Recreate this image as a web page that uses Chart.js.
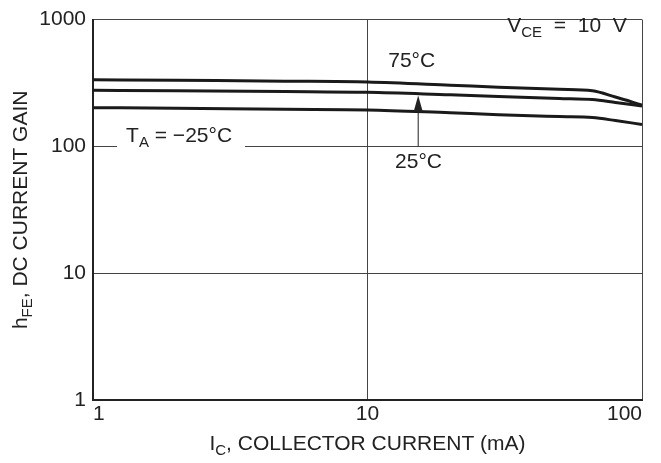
<!DOCTYPE html>
<html>
<head>
<meta charset="utf-8">
<script src="https://cdn.jsdelivr.net/npm/chart.js@4/dist/chart.umd.min.js"></script>
<style>
  html, body { margin: 0; padding: 0; background: #fff; }
  #wrap { width: 661px; height: 463px; }
</style>
</head>
<body>
<div id="wrap"><canvas id="gainChart" width="661" height="463"></canvas></div>
<script>
// collector current (mA) and DC current gain for each ambient temperature
const currentMA   = [1, 2, 5, 10, 20, 30, 50, 66, 80, 100];
const gain75      = [336, 332, 327, 322, 304, 293, 282, 275, 245, 212];
const gain25      = [277, 275, 271, 267, 255, 248, 239, 234, 222, 208];
const gainMinus25 = [202, 200, 196, 194, 184, 178, 172, 169, 160, 149];

const xTicks = [1, 10, 100];
const yTicks = [1, 10, 100, 1000];

const FONT = '"Liberation Sans", Arial, Helvetica, sans-serif';
const MAIN_FONT = '21px ' + FONT;
const SUB_FONT = '15px ' + FONT;
const INK = '#222';

function toPoints(ys) {
    return currentMA.map((x, i) => ({ x: x, y: ys[i] }));
}

// text with subscripts: parts = [[text, isSub], ...]
function drawRich(ctx, parts, x, y, align) {
    const widths = parts.map(p => {
        ctx.font = p[1] ? SUB_FONT : MAIN_FONT;
        return ctx.measureText(p[0]).width;
    });
    const total = widths.reduce((a, b) => a + b, 0);
    let cx = align === 'right' ? x - total : (align === 'center' ? x - total / 2 : x);
    parts.forEach((p, i) => {
        ctx.font = p[1] ? SUB_FONT : MAIN_FONT;
        ctx.fillText(p[0], cx, p[1] ? y + 5 : y);
        cx += widths[i];
    });
}

const labelsPlugin = {
    id: 'labels',
    afterDraw(chart) {
        const ctx = chart.ctx;
        const xs = chart.scales.x, ys = chart.scales.y;
        const area = chart.chartArea;
        ctx.save();
        ctx.textBaseline = 'alphabetic';
        ctx.textAlign = 'left';

        // white box behind the T_A label (breaks the 100 grid line)
        ctx.fillStyle = '#fff';
        ctx.fillRect(117, 122, 128, 28);
        ctx.fillStyle = INK;

        drawRich(ctx, [['T', false], ['A', true], [' = \u221225\u00b0C', false]],
            xs.getPixelForValue(1.32), ys.getPixelForValue(109), 'left');
        drawRich(ctx, [['75\u00b0C', false]],
            xs.getPixelForValue(11.9), ys.getPixelForValue(422), 'left');
        drawRich(ctx, [['25\u00b0C', false]],
            xs.getPixelForValue(12.6), ys.getPixelForValue(68), 'left');
        drawRich(ctx, [['V', false], ['CE', true], ['  =  10  V', false]],
            xs.getPixelForValue(88), ys.getPixelForValue(800), 'right');

        // arrow from the 100 line up to the 25°C curve
        const ax = xs.getPixelForValue(15.3);
        const yBase = ys.getPixelForValue(100);
        const yTip = ys.getPixelForValue(252);
        ctx.strokeStyle = INK;
        ctx.lineWidth = 1;
        ctx.beginPath();
        ctx.moveTo(ax, yBase);
        ctx.lineTo(ax, yTip + 10);
        ctx.stroke();
        ctx.beginPath();
        ctx.moveTo(ax, yTip);
        ctx.lineTo(ax - 4.5, yTip + 16);
        ctx.lineTo(ax + 4.5, yTip + 16);
        ctx.closePath();
        ctx.fill();

        // axis titles
        drawRich(ctx, [['I', false], ['C', true], [', COLLECTOR CURRENT (mA)', false]],
            (area.left + area.right) / 2, 450, 'center');
        ctx.translate(27, (area.top + area.bottom) / 2);
        ctx.rotate(-Math.PI / 2);
        drawRich(ctx, [['h', false], ['FE', true], [', DC CURRENT GAIN', false]], 0, 0, 'center');
        ctx.restore();
    }
};

const lineStyle = {
    borderColor: '#1a1a1a',
    borderWidth: 3,
    pointRadius: 0,
    fill: false,
    cubicInterpolationMode: 'monotone'
};

new Chart(document.getElementById('gainChart'), {
    type: 'line',
    data: {
        datasets: [
            Object.assign({ label: '75°C', data: toPoints(gain75) }, lineStyle),
            Object.assign({ label: '25°C', data: toPoints(gain25) }, lineStyle),
            Object.assign({ label: '-25°C', data: toPoints(gainMinus25) }, lineStyle)
        ]
    },
    options: {
        responsive: false,
        animation: false,
        layout: { padding: { top: 14, right: 19, left: 0, bottom: 0 } },
        plugins: {
            legend: { display: false },
            tooltip: { enabled: false }
        },
        scales: {
            x: {
                type: 'logarithmic',
                min: 1,
                max: 100,
                afterBuildTicks: s => { s.ticks = xTicks.map(v => ({ value: v })); },
                afterFit: s => { s.height = 63; },
                ticks: {
                    callback: v => String(v),
                    font: { size: 21, family: FONT },
                    color: INK,
                    padding: 2,
                    align: 'inner',
                    maxRotation: 0,
                    autoSkip: false
                },
                grid: { color: '#444', lineWidth: 1, drawTicks: false },
                border: { color: INK, width: 2 }
            },
            y: {
                type: 'logarithmic',
                min: 1,
                max: 1000,
                afterBuildTicks: s => { s.ticks = yTicks.map(v => ({ value: v })); },
                afterFit: s => { s.width = 93; },
                ticks: {
                    callback: v => String(v),
                    font: { size: 21, family: FONT },
                    color: INK,
                    padding: 7,
                    autoSkip: false
                },
                grid: { color: '#444', lineWidth: 1, drawTicks: false },
                border: { color: INK, width: 2 }
            }
        }
    },
    plugins: [labelsPlugin]
});
</script>
</body>
</html>
